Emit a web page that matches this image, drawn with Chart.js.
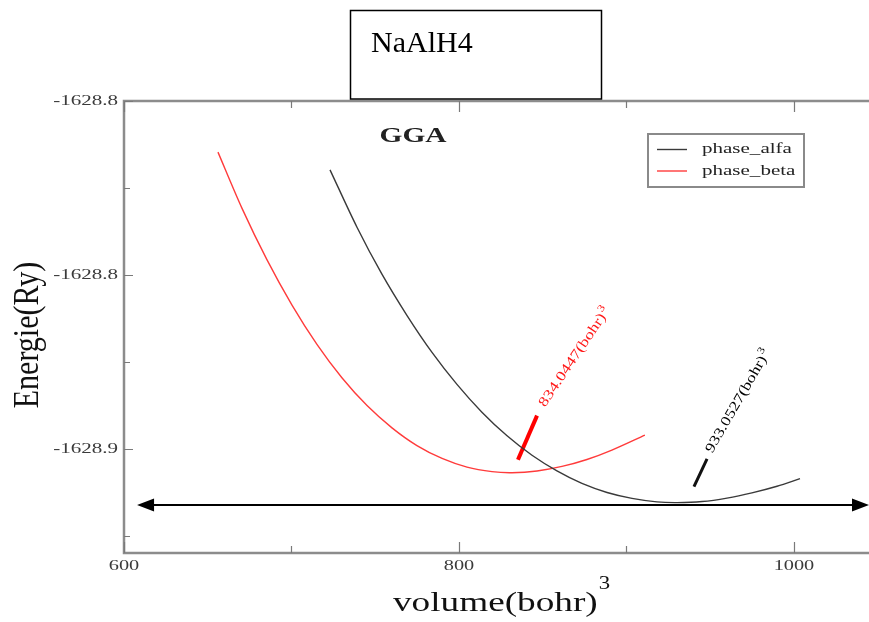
<!DOCTYPE html>
<html>
<head>
<meta charset="utf-8">
<script src="https://cdn.jsdelivr.net/npm/chart.js@4"></script>
<style>
  body { margin: 0; background: #fff; overflow: hidden; }
  canvas { display: block; }
</style>
</head>
<body>
<canvas id="eos" width="869" height="622"></canvas>
<script>
// E(V) curves for NaAlH4 (GGA), energies in Ry, volumes in bohr^3
const alfaVolume = [723.0, 739.1, 754.0, 769.0, 783.9, 798.8, 813.7, 828.7, 843.6, 858.5, 873.4,
                    888.4, 903.3, 918.2, 930.2, 945.1, 960.0, 974.9, 989.9, 1003.6];
const alfaEnergy = [-1628.8198, -1628.8363, -1628.8498, -1628.8617, -1628.8723, -1628.8815, -1628.8895,
                    -1628.8963, -1628.9019, -1628.9064, -1628.9100, -1628.9126, -1628.9143, -1628.9153,
                    -1628.9155, -1628.9152, -1628.9142, -1628.9127, -1628.9108, -1628.9086];
const betaVolume = [656.1, 670.4, 685.4, 700.3, 715.2, 730.1, 745.1, 760.0, 774.9, 789.9, 804.8,
                    819.7, 831.6, 846.6, 861.5, 876.4, 891.3, 911.0];
const betaEnergy = [-1628.8147, -1628.8308, -1628.8457, -1628.8587, -1628.8700, -1628.8796, -1628.8876,
                    -1628.8940, -1628.8991, -1628.9028, -1628.9053, -1628.9066, -1628.9069, -1628.9064,
                    -1628.9051, -1628.9031, -1628.9004, -1628.8961];

// equilibrium volume markers
const betaMarkVolume = [835.2, 846.6];
const betaMarkEnergy = [-1628.9032, -1628.8905];
const alfaMarkVolume = [940.3, 948.1];
const alfaMarkEnergy = [-1628.9109, -1628.9029];
const betaV0Text = '834.0447(bohr)';
const alfaV0Text = '933.0527(bohr)';

// axis ticks
const xTicks = [600, 800, 1000];
const xTickLabels = ['600', '800', '1000'];
const xMinorTicks = [700, 900];
const yTicks = [-1628.80, -1628.85, -1628.90];
const yTickLabels = ['-1628.8', '-1628.8', '-1628.9'];
const yMinorTicks = [-1628.825, -1628.875, -1628.925];

const SERIF = '"Liberation Serif", "Times New Roman", serif';
const AXIS_GREY = '#8c8c8c';

function toPoints(xs, ys) {
  return xs.map((x, i) => ({ x: x, y: ys[i] }));
}

// text drawn wider than normal, like the stretched grace export
function wideText(ctx, text, x, y, sx, align, baseline) {
  ctx.save();
  ctx.translate(x, y);
  ctx.scale(sx, 1);
  ctx.textAlign = align;
  ctx.textBaseline = baseline || 'alphabetic';
  ctx.fillText(text, 0, 0);
  ctx.restore();
}

function rotatedLabel(ctx, text, x, y, deg, color) {
  ctx.save();
  ctx.translate(x, y);
  ctx.rotate(deg * Math.PI / 180);
  ctx.scale(1.25, 1);
  ctx.fillStyle = color;
  ctx.textAlign = 'left';
  ctx.textBaseline = 'middle';
  ctx.font = '14px ' + SERIF;
  ctx.fillText(text, 0, 0);
  const w = ctx.measureText(text).width;
  ctx.font = '10px ' + SERIF;
  ctx.fillText('3', w + 1, -5);
  ctx.restore();
}

const framePlugin = {
  id: 'frame',
  beforeDatasetsDraw(chart) {
    const { ctx, chartArea: a, scales: { x, y } } = chart;
    ctx.save();
    ctx.strokeStyle = AXIS_GREY;
    ctx.lineWidth = 2.5;
    ctx.beginPath();
    ctx.moveTo(a.right, a.top); ctx.lineTo(a.left, a.top);
    ctx.lineTo(a.left, a.bottom); ctx.lineTo(a.right, a.bottom);
    ctx.stroke();

    // inward ticks
    ctx.lineWidth = 1.2;
    ctx.strokeStyle = '#7a7a7a';
    ctx.beginPath();
    const tickX = (v, len) => {
      const px = Math.round(x.getPixelForValue(v)) + 0.5;
      ctx.moveTo(px, a.bottom); ctx.lineTo(px, a.bottom - len);
      ctx.moveTo(px, a.top); ctx.lineTo(px, a.top + len);
    };
    const tickY = (v, len) => {
      const py = Math.round(y.getPixelForValue(v)) + 0.5;
      ctx.moveTo(a.left, py); ctx.lineTo(a.left + len, py);
    };
    xTicks.forEach(v => tickX(v, 11));
    xMinorTicks.forEach(v => tickX(v, 7));
    yTicks.forEach(v => tickY(v, 9));
    yMinorTicks.forEach(v => tickY(v, 6));
    ctx.stroke();

    // tick labels
    ctx.fillStyle = '#3a3a3a';
    ctx.font = '14.5px ' + SERIF;
    yTicks.forEach((v, i) => wideText(ctx, yTickLabels[i], a.left - 6, y.getPixelForValue(v), 1.45, 'right', 'middle'));
    xTicks.forEach((v, i) => wideText(ctx, xTickLabels[i], x.getPixelForValue(v), a.bottom + 13, 1.4, 'center', 'middle'));

    // axis titles
    ctx.fillStyle = '#111';
    ctx.font = '28px ' + SERIF;
    const xTitle = 'volume(bohr)';
    const tw = ctx.measureText(xTitle).width * 1.33;
    const tx = 393;
    wideText(ctx, xTitle, tx, 611, 1.33, 'left');
    ctx.font = '19px ' + SERIF;
    wideText(ctx, '3', tx + tw + 1, 589, 1.2, 'left');

    ctx.save();
    ctx.translate(29, 335);
    ctx.scale(1.2, 1);
    ctx.rotate(-Math.PI / 2);
    ctx.font = '30px ' + SERIF;
    ctx.textAlign = 'center';
    ctx.textBaseline = 'middle';
    ctx.fillText('Energie(Ry)', 0, 0);
    ctx.restore();

    // GGA label
    ctx.font = 'bold 21px ' + SERIF;
    ctx.fillStyle = '#222';
    wideText(ctx, 'GGA', 413, 142, 1.4, 'center');
    ctx.restore();
  },
  afterDatasetsDraw(chart) {
    const { ctx, scales: { x, y } } = chart;
    ctx.save();

    // double arrow across the plot at the alfa minimum
    const ay = y.getPixelForValue(-1628.9162);
    const x0 = x.getPixelForValue(607.8);
    const x1 = x.getPixelForValue(1044.8);
    ctx.strokeStyle = '#000';
    ctx.fillStyle = '#000';
    ctx.lineWidth = 2;
    ctx.beginPath();
    ctx.moveTo(x0 + 10, ay); ctx.lineTo(x1 - 10, ay);
    ctx.stroke();
    ctx.beginPath();
    ctx.moveTo(x0, ay); ctx.lineTo(x0 + 17, ay - 6.5); ctx.lineTo(x0 + 17, ay + 6.5); ctx.closePath();
    ctx.moveTo(x1, ay); ctx.lineTo(x1 - 17, ay - 6.5); ctx.lineTo(x1 - 17, ay + 6.5); ctx.closePath();
    ctx.fill();

    // V0 labels
    rotatedLabel(ctx, betaV0Text, x.getPixelForValue(849.6), y.getPixelForValue(-1628.8876), -56, '#ff1a1a');
    rotatedLabel(ctx, alfaV0Text, x.getPixelForValue(949.3), y.getPixelForValue(-1628.9009), -60, '#000');

    // legend
    ctx.fillStyle = '#fff';
    ctx.fillRect(648, 134, 156, 53);
    ctx.strokeStyle = '#8a8a8a';
    ctx.lineWidth = 2;
    ctx.strokeRect(648, 134, 156, 53);
    const entries = chart.data.datasets.filter(d => d.label);
    entries.forEach((d, i) => {
      const ly = 149.5 + i * 21.5;
      ctx.strokeStyle = d.borderColor;
      ctx.lineWidth = 1.4;
      ctx.beginPath();
      ctx.moveTo(657, ly); ctx.lineTo(687, ly);
      ctx.stroke();
      ctx.fillStyle = '#222';
      ctx.font = '14.5px ' + SERIF;
      wideText(ctx, d.label, 702, ly, 1.45, 'left', 'middle');
    });

    // compound name box
    ctx.fillStyle = '#fff';
    ctx.fillRect(350, 10, 251, 89);
    ctx.strokeStyle = '#000';
    ctx.lineWidth = 1.5;
    ctx.strokeRect(350.5, 10.5, 251, 88.5);
    ctx.fillStyle = '#000';
    ctx.font = '30px ' + SERIF;
    ctx.textAlign = 'left';
    ctx.textBaseline = 'alphabetic';
    ctx.fillText('NaAlH4', 371, 52);
    ctx.restore();
  }
};

const curve = {
  showLine: true,
  pointRadius: 0,
  borderWidth: 1.4,
  fill: false,
  tension: 0.3
};

const ctx = document.getElementById('eos').getContext('2d');
const eosChart = new Chart(ctx, {
  type: 'scatter',
  data: {
    datasets: [
      Object.assign({ label: 'phase_alfa', data: toPoints(alfaVolume, alfaEnergy), borderColor: '#3a3a3a' }, curve),
      Object.assign({ label: 'phase_beta', data: toPoints(betaVolume, betaEnergy), borderColor: '#ff3b3b' }, curve),
      { data: toPoints(betaMarkVolume, betaMarkEnergy), showLine: true, pointRadius: 0, borderColor: '#ff0000', borderWidth: 4 },
      { data: toPoints(alfaMarkVolume, alfaMarkEnergy), showLine: true, pointRadius: 0, borderColor: '#111', borderWidth: 3 }
    ]
  },
  options: {
    responsive: false,
    animation: false,
    devicePixelRatio: 1,
    layout: { padding: { top: 101, right: 0, left: 0, bottom: 0 } },
    plugins: { legend: { display: false }, tooltip: { enabled: false } },
    scales: {
      x: {
        type: 'linear', min: 600, max: 1044.8,
        grid: { display: false }, border: { display: false },
        ticks: { display: false },
        afterFit: s => { s.height = 69; }
      },
      y: {
        type: 'linear', min: -1628.93, max: -1628.80,
        grid: { display: false }, border: { display: false },
        ticks: { display: false },
        afterFit: s => { s.width = 124; }
      }
    }
  },
  plugins: [framePlugin]
});
</script>
</body>
</html>
